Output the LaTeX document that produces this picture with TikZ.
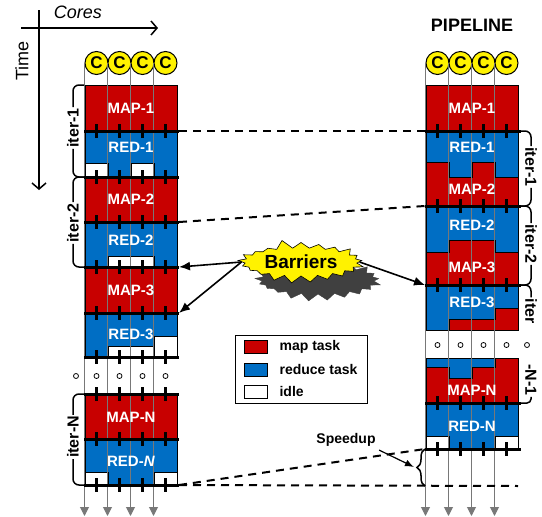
\documentclass[tikz,border=0pt]{standalone}
\usepackage{fontspec}
\setmainfont{Liberation Sans}
\usepackage{xcolor}
\usepackage{tikz}
\usetikzlibrary{calc, shapes.geometric, shapes.symbols, positioning, arrows.meta, decorations.pathreplacing}

\definecolor{mapred}{RGB}{200,0,0}
\definecolor{redblue}{RGB}{0,110,196}
\definecolor{laneline}{RGB}{120,120,120}

\begin{document}
\begin{tikzpicture}[>={Latex[length=11pt, width=9pt]}, x=1pt, y=-1pt,
    mapblk/.style={fill=mapred, draw=black, line width=0.6pt},
    redblk/.style={fill=redblue, draw=black, line width=0.6pt},
    idleblk/.style={fill=white, draw=black, line width=0.6pt},
    corecirc/.style={circle, draw, line width=1pt, fill=yellow, minimum size=23pt, inner sep=0pt, font=\bfseries\fontsize{17}{17}\selectfont},
    corearrow/.style={draw=laneline, line width=1pt, -{Triangle[length=9pt, width=9pt, fill=laneline]}},
    barrierline/.style={line width=3pt},
    barriertick/.style={line width=2.5pt},
    barrierdash/.style={line width=2pt, dash pattern=on 8pt off 6pt},
    brk/.style={line width=1.5pt, rounded corners=6pt},
    blk/.style={text=white, font=\bfseries\fontsize{15}{15}\selectfont},
    iterlbl/.style={inner sep=1pt, font=\bfseries\fontsize{16}{16}\selectfont},
    dotmark/.style={circle, draw, line width=0.8pt, fill=white, minimum size=5pt, inner sep=0pt},
    burst/.style={starburst, starburst points=21, starburst point height=9pt, random starburst=5, minimum width=130pt, minimum height=46pt, inner sep=0pt, font=\bfseries\fontsize{19}{19}\selectfont},
    swatch/.style={draw, line width=0.8pt, minimum width=23pt, minimum height=13pt, inner sep=0pt},
    legtxt/.style={inner sep=0pt, font=\bfseries\fontsize{14}{14}\selectfont},
    axis/.style={line width=1.5pt, -{Straight Barb[length=6pt, width=14pt]}}]
    \useasboundingbox (0,0) rectangle (542,517);

    % 1. Time / Cores axes
    \coordinate (tTop) at (39,10);
    \coordinate (tEnd) at (39,190);
    \coordinate (cStart) at (21,28);
    \coordinate (cEnd) at (158,28);
    \draw[axis] (tTop) -- (tEnd);
    \draw[axis] (cStart) -- (cEnd);
    \node[font=\itshape\fontsize{18}{18}\selectfont] (cores) at (78,12) {Cores};
    \node[rotate=90, font=\fontsize{18}{18}\selectfont] (time) at (22,61) {Time};
    \node[font=\bfseries\fontsize{18}{18}\selectfont] (pipeline) at (472,25) {PIPELINE};

    % 2. Left column: one iteration after the other
    \foreach \ya/\yb in {85/131, 177/222, 267/313, 394/439}
        \path[mapblk] (85,\ya) rectangle (177,\yb);
    \foreach \ya/\yb in {131/177, 222/267, 313/357, 439/485}
        \path[redblk] (85,\ya) rectangle (177,\yb);
    \foreach \xa/\ya/\xb/\yb in {85/163/108/177, 131/163/154/177, 108/256/154/267, 108/346/154/357,
                                  154/336/177/357, 85/472/108/485, 154/472/177/485}
        \path[idleblk] (\xa,\ya) rectangle (\xb,\yb);

    % 3. Right column: pipelined map and reduce
    \path[mapblk] (426,85) rectangle (518,131);
    \path[redblk] (426,131) rectangle (518,206);
    \path[mapblk] (426,162) -- (449,162) -- (449,177) -- (472,177) -- (472,162) -- (495,162)
        -- (495,177) -- (518,177) -- (518,206) -- (426,206) -- cycle;
    \path[redblk] (426,206) rectangle (518,285);
    \path[mapblk] (426,252) -- (449,252) -- (449,240) -- (495,240) -- (495,252) -- (518,252)
        -- (518,285) -- (426,285) -- cycle;
    \path[redblk] (426,285) rectangle (518,330);
    \path[mapblk] (449,330) -- (449,319) -- (495,319) -- (495,308) -- (518,308) -- (518,330) -- cycle;
    \path[redblk] (426,358) rectangle (518,403);
    \path[mapblk] (426,367) -- (449,367) -- (449,378) -- (472,378) -- (472,367) -- (495,367)
        -- (495,358) -- (518,358) -- (518,403) -- (426,403) -- cycle;
    \path[redblk] (426,403) rectangle (518,449);
    \foreach \xa/\ya/\xb/\yb in {426/436/449/449, 495/436/518/449}
        \path[idleblk] (\xa,\ya) rectangle (\xb,\yb);

    % 4. Cores and their time lines
    \foreach \i/\x in {1/85, 2/108, 3/131, 4/154} {
        \node[corecirc] (lc\i) at (\x+11.5,63) {C};
        \coordinate (lend\i) at (lc\i.west |- 0,516);
        \draw[corearrow] (lc\i.west) -- (lend\i);
    }
    \foreach \i/\x in {1/426, 2/449, 3/472, 4/495} {
        \node[corecirc] (rc\i) at (\x+11.5,63) {C};
        \coordinate (rend\i) at (rc\i.west |- 0,516);
        \draw[corearrow] (rc\i.west) -- (rend\i);
    }

    % 5. Barriers
    \foreach \y [count=\i] in {131,177,222,267,313,357,394,439,485} {
        \coordinate (lbw\i) at (84,\y);
        \coordinate (lbe\i) at (179,\y);
        \draw[barrierline] (lbw\i) -- (lbe\i);
        \foreach \t in {96.5,119.5,142.5,165.5}
            \draw[barriertick] (\t,\y-7) -- (\t,\y+7);
    }
    \foreach \y [count=\i] in {131,206,285,403,449} {
        \coordinate (rbw\i) at (425,\y);
        \coordinate (rbe\i) at (521,\y);
        \draw[barrierline] (rbw\i) -- (rbe\i);
        \foreach \t in {437.5,460.5,483.5,506.5}
            \draw[barriertick] (\t,\y-7) -- (\t,\y+7);
    }
    \coordinate (bottomend) at (518,486);
    \draw[barrierdash] (lbe1) -- (rbw1);
    \draw[barrierdash] (lbe3) -- (rbw2);
    \draw[barrierdash] (lbe9) -- (rbw5);
    \draw[barrierdash] (lbe9) -- (bottomend);

    % 6. Iteration brackets
    \coordinate (ltop) at (84,85);
    \node[iterlbl, rotate=90] (liter1) at (73,128) {iter-1};
    \node[iterlbl, rotate=90] (liter2) at (73,223) {iter-2};
    \node[iterlbl, rotate=90] (literN) at (73,437) {iter-N};
    \draw[brk] (ltop) -| (liter1.east);
    \draw[brk] (liter1.west) |- (lbw2);
    \draw[brk] (lbw2) -| (liter2.east);
    \draw[brk] (liter2.west) |- (lbw4);
    \draw[brk] (lbw7) -| (literN.east);
    \draw[brk] (literN.west) |- (lbw9);
    \node[iterlbl, rotate=-90] (riter1) at (531,167) {iter-1};
    \node[iterlbl, rotate=-90] (riter2) at (531,244) {iter-2};
    \node[iterlbl, rotate=-90] (riter3) at (531,311) {iter};
    \node[iterlbl, rotate=-90] (riterN) at (531,380) {-N-1};
    \draw[brk] (rbe1) -| (riter1.west);
    \draw[brk] (riter1.east) |- (rbe2);
    \draw[brk] (rbe2) -| (riter2.west);
    \draw[brk] (riter2.east) |- (rbe3);
    \draw[brk] (rbe3) -| (riter3.west);
    \draw[brk, rounded corners=4pt] (riterN.east) |- (rbe4);

    % 7. Dots
    \foreach \x [count=\i] in {76,96.5,119.5,142.5,165.5}
        \node[dotmark] (ldot\i) at (\x,376) {};
    \foreach \x [count=\i] in {437.5,460.5,483.5,506.5,527}
        \node[dotmark] (rdot\i) at (\x,345) {};

    % 8. Block names
    \node[blk] (lmap1) at (131,108) {MAP-1};
    \node[blk] (lred1) at (131,147) {RED-1};
    \node[blk] (lmap2) at (131,199) {MAP-2};
    \node[blk] (lred2) at (131,240) {RED-2};
    \node[blk] (lmap3) at (131,290) {MAP-3};
    \node[blk] (lred3) at (131,334) {RED-3};
    \node[blk] (lmapN) at (131,417) {MAP-N};
    \node[blk] (lredN) at (131,461) {RED-\textit{N}};
    \node[blk] (rmap1) at (472,108) {MAP-1};
    \node[blk] (rred1) at (472,147) {RED-1};
    \node[blk] (rmap2) at (472,189) {MAP-2};
    \node[blk] (rred2) at (472,225) {RED-2};
    \node[blk] (rmap3) at (472,267) {MAP-3};
    \node[blk] (rred3) at (472,302) {RED-3};
    \node[blk] (rmapN) at (472,390) {MAP-N};
    \node[blk] (rredN) at (472,426) {RED-N};

    % 9. Barriers callout
    \node[burst, fill=black!75, draw=black!75] (barriershadow) at (318,280) {\phantom{Barriers}};
    \node[burst, fill=yellow, draw=black, line width=0.6pt] (barriers) at (301,262) {Barriers};
    \draw[->, line width=1.6pt] (barriers.west) -- (lbe4);
    \draw[->, line width=1.6pt] (barriers.west) -- (lbe5);
    \draw[->, line width=1.6pt] (barriers.east) -- (rbw3);

    % 10. Legend
    \node[draw, line width=1pt, minimum width=132pt, minimum height=68pt, inner sep=0pt] (legend) at (301,369) {};
    \node[swatch, fill=mapred] (swmap) at (255.5,346.5) {};
    \node[swatch, fill=redblue] (swred) at (255.5,369.5) {};
    \node[swatch, fill=white] (swidle) at (255.5,391.5) {};
    \node[legtxt, right=12pt of swmap] (txmap) {map task};
    \node[legtxt, right=12pt of swred] (txred) {reduce task};
    \node[legtxt, right=12pt of swidle] (txidle) {idle};

    % 11. Speedup
    \coordinate (braceb) at (425,486);
    \coordinate (bracet) at (425,449);
    \coordinate (sptip) at (414,467);
    \draw[line width=1.5pt, decorate, decoration={brace, amplitude=8pt}] (braceb) -- (bracet);
    \node[font=\bfseries\fontsize{14}{14}\selectfont] (speedup) at (346,440) {Speedup};
    \draw[->, line width=1.2pt, >={Latex[length=9pt, width=7pt]}] (speedup.south east) -- (sptip);
\end{tikzpicture}
\end{document}
